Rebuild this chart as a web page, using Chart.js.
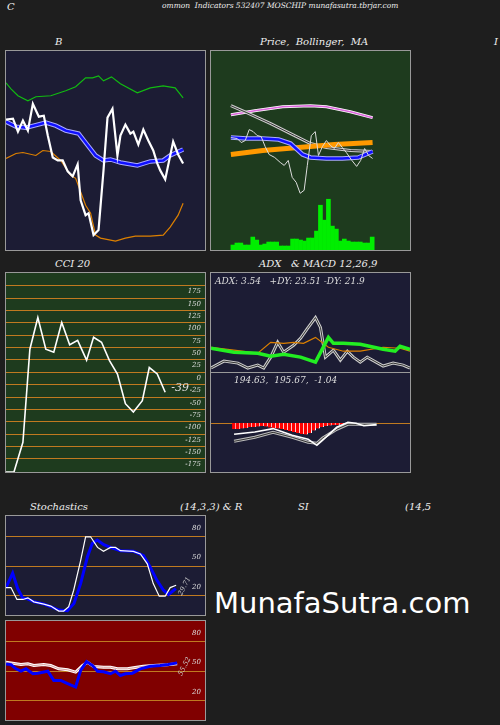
<!DOCTYPE html>
<html>
<head>
<meta charset="utf-8">
<script src="https://cdn.jsdelivr.net/npm/chart.js@4.4.1/dist/chart.umd.min.js"></script>
<style>
  body { margin: 0; background: #1e1e1e; width: 500px; height: 725px; overflow: hidden; font-family: 'DejaVu Serif', serif; }
  .t { position: absolute; color: #eee; font-style: italic; font-size: 10px; white-space: nowrap; }
  .p { position: absolute; border: 1px solid #999; box-sizing: border-box; }
  .p canvas { display: block; }
  .mark { position: absolute; left: 214px; top: 586px; color: #fff; font-family: 'DejaVu Sans', sans-serif; font-size: 29px; }
</style>
</head>
<body>
<div class="t" style="left:7px;top:1px">C</div>
<div class="t" style="left:162px;top:1px;font-size:7.5px">ommon &nbsp;Indicators 532407 MOSCHIP munafasutra.tbrjar.com</div>
<div class="t" style="left:55px;top:36px">B</div>
<div class="t" style="left:260px;top:36px">Price, &nbsp;Bollinger, &nbsp;MA</div>
<div class="t" style="left:494px;top:36px">I</div>
<div class="t" style="left:55px;top:258px">CCI 20</div>
<div class="t" style="left:259px;top:258px">ADX &nbsp;&nbsp;&amp; MACD 12,26,9</div>
<div class="t" style="left:30px;top:501px">Stochastics</div>
<div class="t" style="left:180px;top:501px">(14,3,3) &amp; R</div>
<div class="t" style="left:298px;top:501px">SI</div>
<div class="t" style="left:405px;top:501px">(14,5</div>
<div class="mark">MunafaSutra.com</div>

<div class="p" style="left:5px;top:50px;width:201px;height:201px;background:#1c1c34"><canvas id="cB" width="199" height="199"></canvas></div>
<div class="p" style="left:210px;top:50px;width:201px;height:201px;background:#1e3b1e"><canvas id="cP" width="199" height="199"></canvas></div>
<div class="p" style="left:5px;top:272px;width:201px;height:201px;background:#1e3b1e"><canvas id="cC" width="199" height="199"></canvas></div>
<div class="p" style="left:210px;top:272px;width:201px;height:101px;background:#1c1c34"><canvas id="cA" width="199" height="99"></canvas></div>
<div class="p" style="left:210px;top:372px;width:201px;height:101px;background:#1c1c34"><canvas id="cM" width="199" height="99"></canvas></div>
<div class="p" style="left:5px;top:515px;width:201px;height:101px;background:#1c1c34"><canvas id="cS" width="199" height="99"></canvas></div>
<div class="p" style="left:5px;top:620px;width:201px;height:101px;background:#800000"><canvas id="cR" width="199" height="99"></canvas></div>

<script>
// ---- B panel (bands) ----
const bPriceX = [0,7,12,17,22,27,33,38,42,47,52,57,62,67,72,75,80,83,88,93,98,102,107,112,115,120,125,128,133,138,143,148,152,155,160,168,173,178];
const bPriceY = [131,132,119,130,120,147,134,135,115,93,90,90,79,74,86,50,35,37,15,20,80,133,142,95,115,126,117,119,106,121,110,100,87,80,71,109,96,87];
const bMidX = [0,10,20,40,50,60,73,80,90,98,105,115,132,145,158,165,178];
const bMidY = [129,124,123,128,125,120,117,108,95,90,91,88,85,89,90,95,101];
const bUpX = [0,5,12,22,30,45,60,70,80,87,93,98,106,115,132,145,158,170,178];
const bUpY = [168,162,155,150,154,155,160,164,173,173,175,170,174,167,158,163,165,163,153];
const bLowX = [0,10,17,30,37,45,55,65,70,80,85,90,95,110,120,130,145,158,165,173,178];
const bLowY = [92,97,98,95,100,99,90,75,72,45,37,15,12,9,12,14,14,15,23,35,47];

// ---- Price / Bollinger / MA panel ----
const pTopX = [0,30,65,100,120,150,178];
const pTopY = [136,140,144,145,144,139,133];
const pMa2X = [0,20,50,80,100,120,150,178];
const pMa2Y = [145,138,127,115,107,103,100,99];
const pMaX = [0,20,40,60,75,90,100,120,140,160,178];
const pMaY = [113,112,112,111,107,96,93,92,92,93,99];
const pLongX = [0,40,70,100,130,178];
const pLongY = [96,100,102,104,106,108];
const pCloseX = [0,8,13,18,23,28,33,38,43,48,55,62,67,72,77,82,87,92,96,101,106,110,115,120,125,130,135,140,145,152,158,163,168,173,178];
const pCloseY = [113,112,108,110,121,119,115,114,104,96,93,88,85,90,73,68,57,60,85,115,119,95,104,110,105,102,108,103,98,90,84,90,102,95,92];
const volume = [5,7,7,5,5,13,10,5,6,8,8,8,4,4,4,11,11,10,9,12,12,19,45,30,51,24,21,9,11,9,8,8,8,7,7,13];

// ---- CCI 20 ----
const cciX = [0,8,17,24,32,40,48,56,64,72,81,88,96,104,112,120,128,137,144,152,160];
const cciY = [-190,-190,-130,58,122,58,52,112,67,76,36,82,72,35,8,-52,-69,-46,21,8,-29];
const cciTicks = [175,150,125,100,75,50,25,0,-25,-50,-75,-100,-125,-150,-175];

// ---- ADX ----
const adxX = [0,23,47,60,73,90,105,118,123,133,150,173,185,190,200];
const adxY = [24,20,19,16,18,15,10,35,29,29,28,23,21,26,23];
const pdiX = [0,23,47,60,73,83,93,105,118,133,150,173,190,200];
const pdiY = [25,22,19,30,29,30,29,35,25,21,21,25,24,21];
const mdiX = [0,13,27,37,47,53,60,67,73,83,90,97,105,110,115,123,130,137,143,150,157,173,183,193,200];
const mdiY = [4,11,9,4,7,4,15,30,20,27,34,44,55,45,15,22,12,21,15,10,15,6,9,7,4];

// ---- MACD ----
const histY = [-6,-6,-5.5,-5,-4,-4,-3.5,-3,-3.5,-4.5,-5,-5.5,-6,-7,-8,-9,-10,-11,-11.5,-10,-7.5,-5.5,-4,-3,-2.5,-2,-2,-1.5,-1.5,-1.5,-1,-1,-1,-0.5,-1,-0.5];
const macdX = [4,30,53,77,97,108,115,133,147,157,167,183];
const macdY = [-11.3,-9,-5.6,-12.3,-16.3,-22.3,-17.3,-4.3,0.7,-0.3,-2.8,-1.6];
const sigX = [4,30,53,77,97,108,115,133,147,167,183];
const sigY = [-18.3,-14.3,-9.3,-14.3,-19.3,-20.3,-15.3,-6.3,-1.3,-1.3,-1.3];

// ---- Stochastics ----
const stKX = [0,5,11,17,22,28,38,45,53,58,63,68,75,80,85,92,98,105,110,115,128,135,142,148,154,160,165,171];
const stKY = [27.7,27.7,15.7,15.7,17.3,13.3,11,9,4,4,8.3,25,55,79,79,68.3,64.3,68.3,68.3,65,64.3,61.7,51.7,31.7,19,19,27.7,30];
const stDX = [0,6.7,11.7,16.7,21.7,28.3,38.3,46.7,53.3,61.7,68.3,75,81.7,86.7,91.7,98.3,105,115,128.3,138.3,145,151.7,158.3,163.3,170.7];
const stDY = [27.7,42.3,26.7,17.3,16.3,13.3,11,7.7,5,4.3,11.7,31.7,58.3,72.3,75.7,71,68.3,65,64.3,60,48.3,35,25,20.7,26.7];

// ---- RSI ----
const rsiX = [0,15,22,28,38,45,53,62,70,77,82,88,98,105,112,122,128,138,148,162,172];
const rsiY = [58.3,56,56.7,55,56,55,51.7,50.7,48.3,55,58.3,54,53.3,53.3,51.7,51.7,52.7,54.3,55,55.7,56.7];
const mfiX = [0,5,10,15,20,27,32,42,48,55,62,70,75,81,87,92,98,105,110,115,120,127,135,145,155,163,172];
const mfiY = [56.7,56,51.7,49.3,51.7,46.7,47.3,49.3,40,40,36.7,33.3,50,59,55,49.3,48.7,46.7,49.3,45,46.7,47.3,51.7,54.3,55,56,57.7];

const ORANGE = '#c07a20';
const pts = (xs, ys) => xs.map((x, i) => ({ x: x, y: ys[i] }));
const line = (xs, ys, color, width) => ({ type: 'line', data: pts(xs, ys), borderColor: color, borderWidth: width, pointRadius: 0, tension: 0, fill: false });
// grey outline with dark core; core listed last so it sits on top
const dbl = (xs, ys, outer) => [line(xs, ys, outer, 3), line(xs, ys, '#333', 1)];

// gridlines + labels drawn in data units
const guides = {
  id: 'guides',
  beforeDatasetsDraw(chart, args, o) {
    if (!o || !o.lines) return;
    const c = chart.ctx, y = chart.scales.y, a = chart.chartArea;
    c.save();
    c.strokeStyle = o.color || ORANGE; c.lineWidth = 1;
    o.lines.forEach(v => { const py = Math.round(y.getPixelForValue(v)) + 0.5; c.beginPath(); c.moveTo(a.left, py); c.lineTo(a.right, py); c.stroke(); });
    c.restore();
  },
  afterDatasetsDraw(chart, args, o) {
    if (!o) return;
    const c = chart.ctx, y = chart.scales.y, x = chart.scales.x;
    c.save();
    c.fillStyle = '#ddd'; c.textAlign = 'right'; c.textBaseline = 'middle';
    c.font = 'italic 7px "DejaVu Serif"';
    (o.labels || []).forEach(v => c.fillText(String(v), 195, y.getPixelForValue(v) + (o.dy || 0)));
    (o.texts || []).forEach(t => {
      c.save();
      c.font = t.font; c.fillStyle = t.color || '#ddd'; c.textAlign = 'left';
      c.translate(x.getPixelForValue(t.x), y.getPixelForValue(t.y));
      c.rotate(t.rot || 0);
      c.fillText(t.text, 0, 0);
      c.restore();
    });
    c.restore();
  }
};

function mk(id, datasets, ymin, ymax, g) {
  // later datasets are drawn on top
  datasets.forEach((d, i) => { if (d.order === undefined) d.order = datasets.length - i; });
  new Chart(document.getElementById(id), {
    data: { datasets: datasets },
    options: {
      responsive: false, animation: false, layout: { padding: 0 },
      plugins: { legend: { display: false }, tooltip: { enabled: false }, guides: g || {} },
      scales: {
        x: { type: 'linear', min: 0, max: 200, display: false },
        y: { min: ymin, max: ymax, display: false }
      }
    },
    plugins: [guides]
  });
}

mk('cB', [
  line(bUpX, bUpY, '#11bb11', 1.2),
  line(bLowX, bLowY, '#dd8000', 1.2),
  line(bMidX, bMidY, '#aaaaff', 4.5),
  line(bMidX, bMidY, '#1010ff', 2.5),
  line(bPriceX, bPriceY, '#ffffff', 2.2)
], 0, 200);

mk('cP', [
  { type: 'bar', data: pts(volume.map((v, i) => 2.5 + 5 * i), volume), backgroundColor: '#00ee00', barPercentage: 1, categoryPercentage: 1, order: 99 },
  line(pTopX, pTopY, '#ffffff', 3), line(pTopX, pTopY, '#dd66dd', 1.5),
  ...dbl(pMa2X, pMa2Y, '#cccccc'),
  line(pLongX, pLongY, '#ff9900', 5),
  line(pMaX, pMaY, '#aaaaff', 4.5), line(pMaX, pMaY, '#1010ff', 2.5),
  line(pCloseX, pCloseY, '#dddddd', 1)
], 0, 200);

mk('cC', [line(cciX, cciY, '#ffffff', 1.6)], -190, 212, {
  lines: cciTicks.map(v => v + 12.5).concat([-162.5]).filter((v, i, a) => a.indexOf(v) === i),
  labels: cciTicks, dy: 0,
  texts: [{ text: '-39', x: 166, y: -21, font: 'italic 11px "DejaVu Serif"', color: '#ddd' }]
});

mk('cA', [
  ...dbl(mdiX, mdiY, '#cccccc'),
  line(pdiX, pdiY, '#dd8000', 1.2),
  line(adxX, adxY, '#22ee22', 3.5)
], 0, 100, {
  texts: [{ text: 'ADX: 3.54   +DY: 23.51 -DY: 21.9', x: 4, y: 91, font: 'italic 9px "DejaVu Serif"', color: '#ddd' }]
});

mk('cM', [
  { type: 'bar', data: pts(histY.map((v, i) => 4 + 5 * i), histY), backgroundColor: '#ff0000', borderColor: '#ffffff', borderWidth: { right: 1 }, barPercentage: 1, categoryPercentage: 1, order: 99 },
  ...dbl(sigX, sigY, '#bbbbbb'),
  line(macdX, macdY, '#ffffff', 1.6)
], -49, 50, {
  lines: [0],
  texts: [{ text: '194.63,  195.67,  -1.04', x: 4, y: 42, font: 'italic 9px "DejaVu Serif"', color: '#ddd' }]
});

mk('cS', [
  line(stDX, stDY, '#0000ff', 3),
  line(stKX, stKY, '#ffffff', 1.2)
], 0, 100, {
  lines: [80, 50, 20], labels: [80, 50, 20], dy: -8,
  texts: [{ text: '29.71', x: 175, y: 20, font: 'italic 7px "DejaVu Serif"', color: '#ccc', rot: -1.1 }]
});

mk('cR', [
  line(rsiX, rsiY, '#ffffff', 3), line(rsiX, rsiY, '#d8a0a0', 1),
  line(mfiX, mfiY, '#0000ff', 3)
], 0, 100, {
  lines: [80, 50, 20], labels: [80, 50, 20], dy: -8,
  texts: [{ text: '55.52', x: 175, y: 45, font: 'italic 7px "DejaVu Serif"', color: '#ccc', rot: -1.1 }]
});
</script>
</body>
</html>
